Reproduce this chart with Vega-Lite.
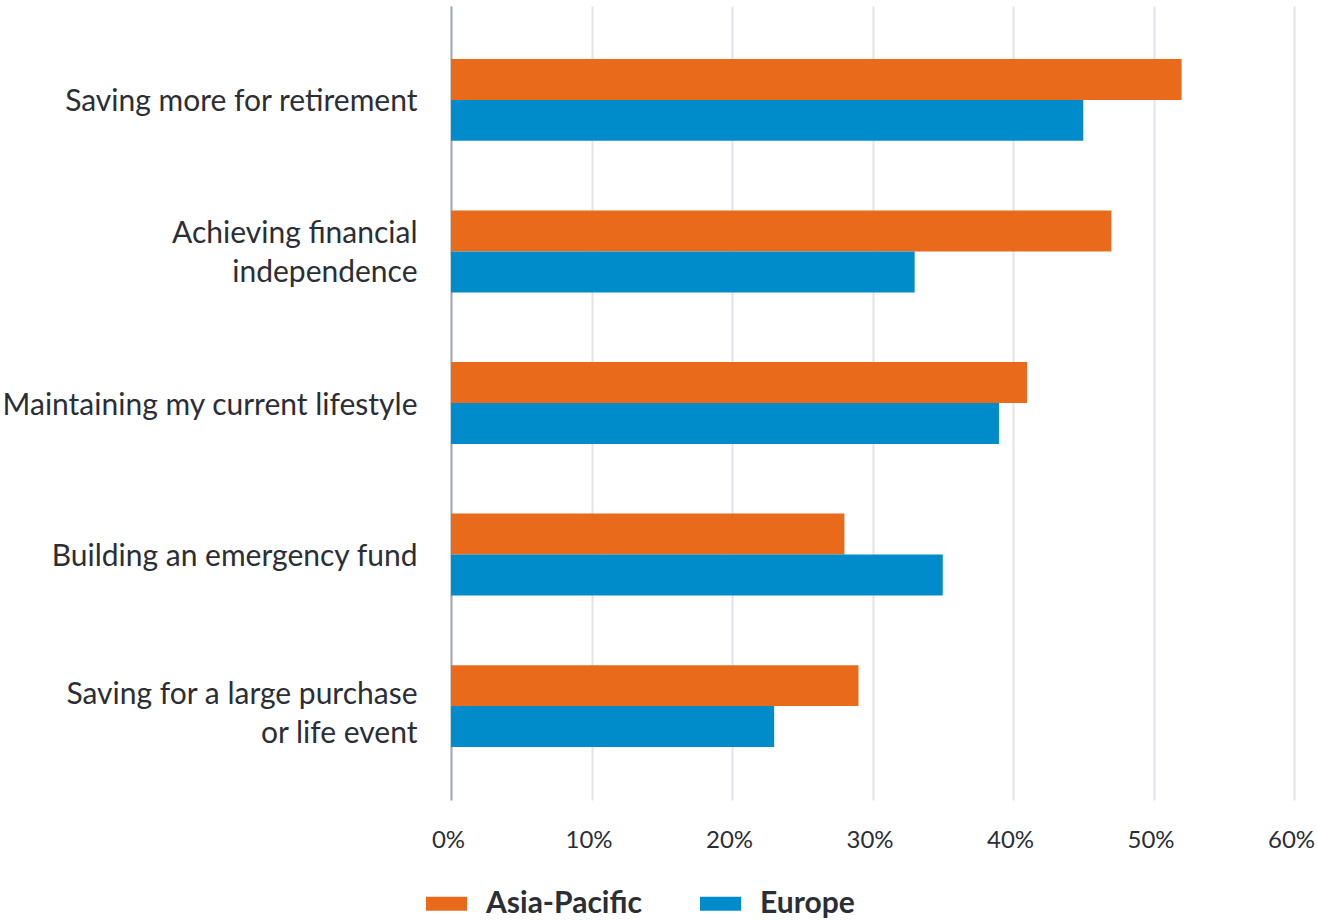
{
  "$schema": "https://vega.github.io/schema/vega-lite/v6.json",
  "width": 843,
  "height": 794,
  "autosize": {"type": "none"},
  "padding": {"left": 451, "top": 6, "right": 23, "bottom": 120},
  "background": "white",
  "config": {
    "view": {"stroke": null},
    "font": "Lato"
  },
  "data": {
    "values": [
      {"goal": "Saving more for retirement", "region": "Asia-Pacific", "share": 52},
      {"goal": "Saving more for retirement", "region": "Europe", "share": 45},
      {"goal": "Achieving financial independence", "region": "Asia-Pacific", "share": 47},
      {"goal": "Achieving financial independence", "region": "Europe", "share": 33},
      {"goal": "Maintaining my current lifestyle", "region": "Asia-Pacific", "share": 41},
      {"goal": "Maintaining my current lifestyle", "region": "Europe", "share": 39},
      {"goal": "Building an emergency fund", "region": "Asia-Pacific", "share": 28},
      {"goal": "Building an emergency fund", "region": "Europe", "share": 35},
      {"goal": "Saving for a large purchase or life event", "region": "Asia-Pacific", "share": 29},
      {"goal": "Saving for a large purchase or life event", "region": "Europe", "share": 23}
    ]
  },
  "mark": {"type": "bar"},
  "encoding": {
    "y": {
      "field": "goal",
      "type": "nominal",
      "sort": null,
      "title": null,
      "scale": {"paddingInner": 0.46, "paddingOuter": 0.35},
      "axis": {
        "domain": true,
        "domainColor": "#a3a9b3",
        "domainWidth": 2,
        "ticks": false,
        "labelPadding": 34,
        "labelFontSize": 30,
        "labelColor": "#2b2e35",
        "labelLineHeight": 39,
        "labelLimit": 600,
        "labelOffset": {"condition": [
          {"test": "datum.value == 'Achieving financial independence'", "value": -17},
          {"test": "datum.value == 'Saving for a large purchase or life event'", "value": -11}
        ], "value": 2.5},
        "labelExpr": "datum.value == 'Achieving financial independence' ? ['Achieving financial', 'independence'] : datum.value == 'Saving for a large purchase or life event' ? ['Saving for a large purchase', 'or life event'] : datum.value"
      }
    },
    "x": {
      "field": "share",
      "type": "quantitative",
      "title": null,
      "scale": {"domain": [0, 60], "nice": false},
      "axis": {
        "values": [0, 10, 20, 30, 40, 50, 60],
        "labelExpr": "datum.value + '%'",
        "labelFlush": false,
        "labelAlign": "center",
        "labelOffset": -3,
        "domain": false,
        "ticks": false,
        "grid": true,
        "gridColor": "#e1e3ea",
        "gridWidth": 2,
        "labelFontSize": 24,
        "labelColor": "#2b2e35",
        "labelPadding": 28
      }
    },
    "yOffset": {"field": "region", "type": "nominal", "sort": ["Asia-Pacific", "Europe"]},
    "color": {
      "field": "region",
      "type": "nominal",
      "sort": ["Asia-Pacific", "Europe"],
      "scale": {"domain": ["Asia-Pacific", "Europe"], "range": ["#e96a1a", "#008ccb"]},
      "legend": {
        "title": null,
        "orient": "none",
        "direction": "horizontal",
        "legendX": -25,
        "legendY": 877,
        "symbolType": "M-1,-0.34L1,-0.34L1,0.34L-1,0.34Z",
        "symbolSize": 1681,
        "symbolStrokeWidth": 0,
        "labelFontSize": 30,
        "labelFontWeight": "bold",
        "labelColor": "#2b2e35",
        "labelOffset": 19,
        "columnPadding": 58,
        "labelLimit": 400
      }
    }
  }
}
